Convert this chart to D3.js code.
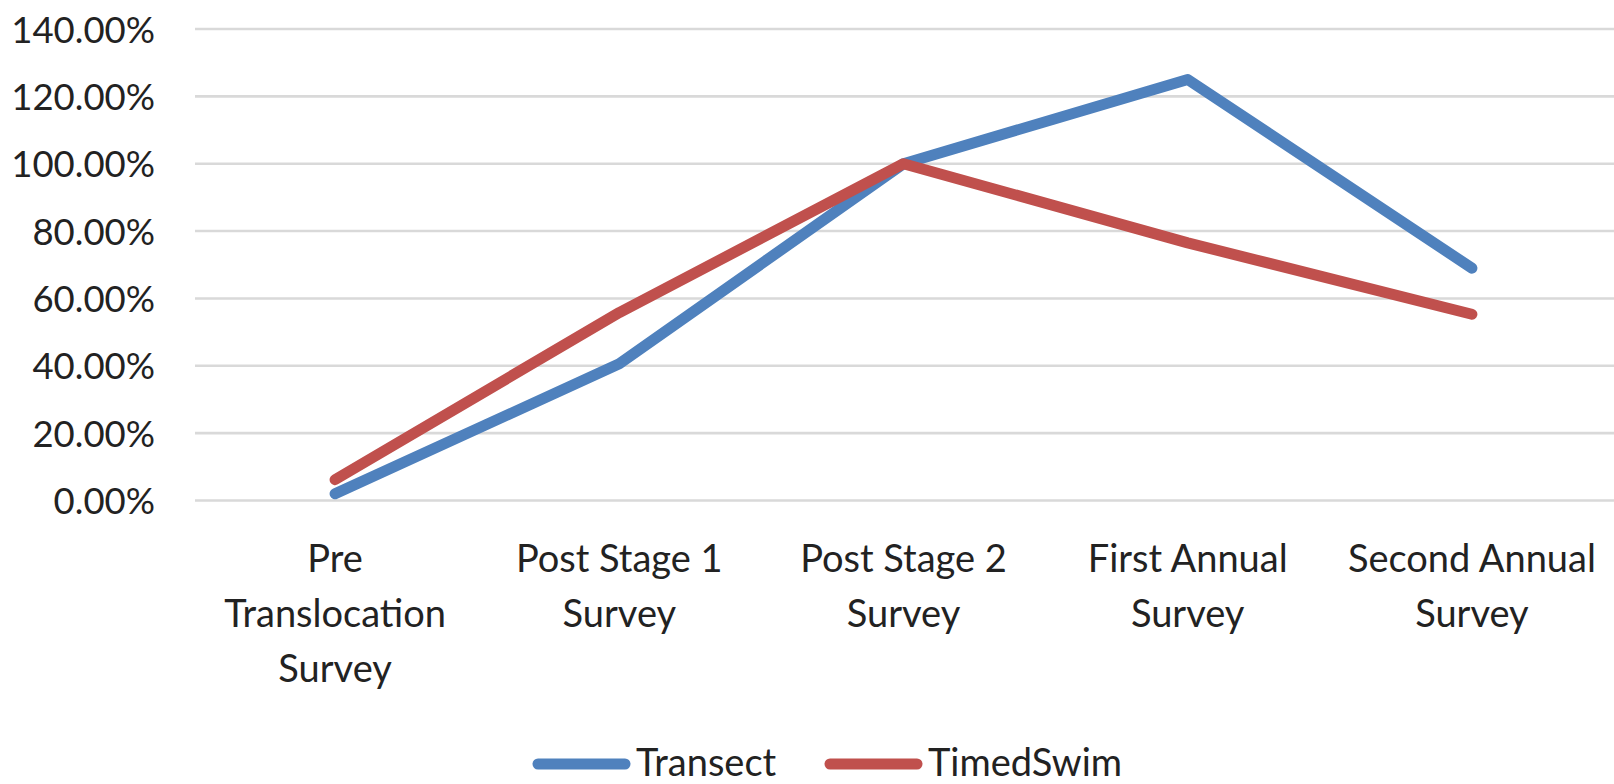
<!DOCTYPE html>
<html>
<head>
<meta charset="utf-8">
<script src="https://cdn.jsdelivr.net/npm/d3@7"></script>
<style>
  html, body { margin: 0; padding: 0; background: #fff; }
  svg { display: block; }
  text { font-family: Lato, "Open Sans", sans-serif; fill: #222; }
</style>
</head>
<body>
<svg id="chart" width="1614" height="784"></svg>
<script>
// Survey stages (x categories), each split into display lines
const categories = [
  "Pre Translocation Survey",
  "Post Stage 1 Survey",
  "Post Stage 2 Survey",
  "First Annual Survey",
  "Second Annual Survey"
];
const categoryLines = [
  ["Pre", "Translocation", "Survey"],
  ["Post Stage 1", "Survey"],
  ["Post Stage 2", "Survey"],
  ["First Annual", "Survey"],
  ["Second Annual", "Survey"]
];

// Series values, as fractions
const transect  = [0.02, 0.406, 1.00, 1.25, 0.69];
const timedSwim = [0.062, 0.558, 1.00, 0.765, 0.553];

// Y axis ticks
const yTicks = [0, 0.2, 0.4, 0.6, 0.8, 1.0, 1.2, 1.4];

const series = [
  { name: "Transect",  values: transect,  color: "#4F81BD" },
  { name: "TimedSwim", values: timedSwim, color: "#C0504D" }
];

const svg = d3.select("#chart");
const plot = { left: 193, right: 1614, top: 29, bottom: 500.5 };

const x = d3.scaleBand()
  .domain(categories)
  .range([plot.left, plot.right])
  .paddingInner(0)
  .paddingOuter(0);

const y = d3.scaleLinear()
  .domain([0, 1.4])
  .range([plot.bottom, plot.top]);

const fmt = d => (d * 100).toFixed(2) + "%";

// Horizontal gridlines
svg.append("g")
  .selectAll("line")
  .data(yTicks)
  .join("line")
  .attr("x1", plot.left + 2)
  .attr("x2", plot.right)
  .attr("y1", d => y(d))
  .attr("y2", d => y(d))
  .attr("stroke", "#d9d9d9")
  .attr("stroke-width", 2.6);

// Y axis labels
const yAxis = d3.axisLeft(y)
  .tickValues(yTicks)
  .tickFormat(fmt)
  .tickSize(0)
  .tickPadding(0);
const yg = svg.append("g")
  .attr("transform", `translate(155,0)`)
  .call(yAxis);
yg.select(".domain").remove();
yg.selectAll("text")
  .attr("font-size", 36.5)
  .attr("font-family", "Lato, 'Open Sans', sans-serif")
  .attr("fill", "#222")
  .attr("dy", "0.36em");

// X axis category labels
const xAxis = d3.axisBottom(x).tickSize(0).tickFormat("");
const xg = svg.append("g")
  .attr("transform", `translate(0,${plot.bottom})`)
  .call(xAxis);
xg.select(".domain").remove();
xg.selectAll(".tick").each(function (d, i) {
  const t = d3.select(this).append("text")
    .attr("text-anchor", "middle")
    .attr("font-size", 38)
    .attr("font-family", "Lato, 'Open Sans', sans-serif")
    .attr("fill", "#222");
  categoryLines[i].forEach((line, k) => {
    t.append("tspan")
      .attr("x", 0)
      .attr("y", 71 + k * 55)
      .text(line);
  });
});

// Series lines
const line = d3.line()
  .x((d, i) => x(categories[i]) + x.bandwidth() / 2)
  .y(d => y(d));

svg.append("g")
  .selectAll("path")
  .data(series)
  .join("path")
  .attr("d", s => line(s.values))
  .attr("fill", "none")
  .attr("stroke", s => s.color)
  .attr("stroke-width", 11)
  .attr("stroke-linecap", "round")
  .attr("stroke-linejoin", "round");

// Legend
const legendItems = [
  { x0: 538, x1: 625, tx: 636 },
  { x0: 830, x1: 917, tx: 928 }
];
const lg = svg.append("g");
series.forEach((s, i) => {
  const p = legendItems[i];
  lg.append("line")
    .attr("x1", p.x0).attr("x2", p.x1)
    .attr("y1", 764).attr("y2", 764)
    .attr("stroke", s.color)
    .attr("stroke-width", 11)
    .attr("stroke-linecap", "round");
  lg.append("text")
    .attr("x", p.tx)
    .attr("y", 776)
    .attr("font-size", 38)
    .text(s.name);
});
</script>
</body>
</html>
